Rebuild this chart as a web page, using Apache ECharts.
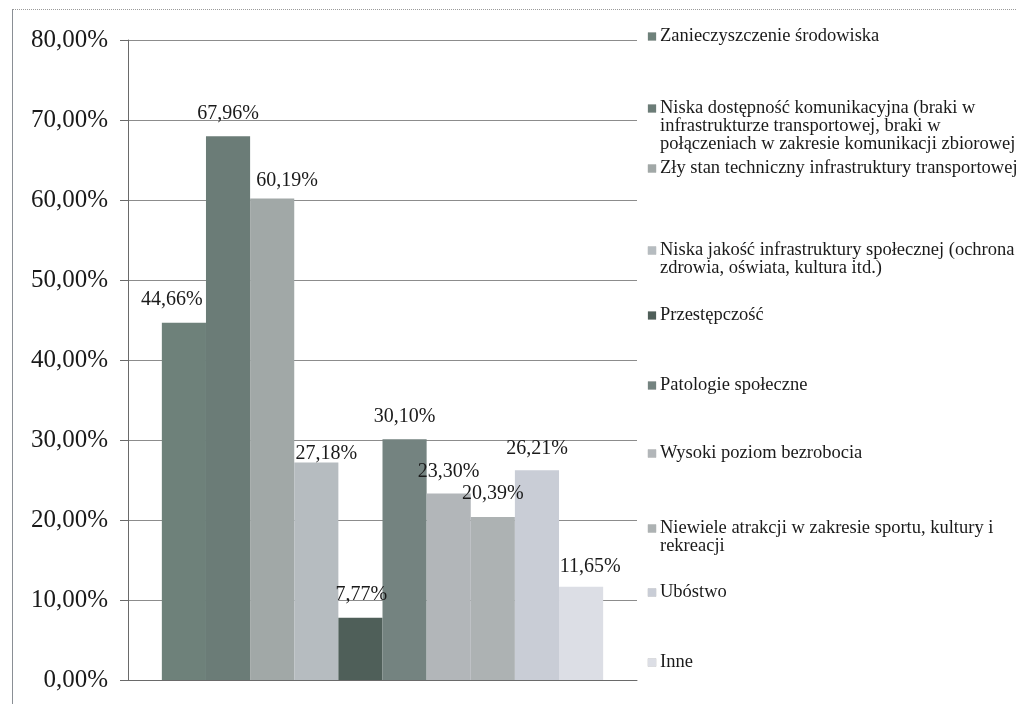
<!DOCTYPE html>
<html>
<head>
<meta charset="utf-8">
<script src="https://cdn.jsdelivr.net/npm/echarts@6/dist/echarts.min.js"></script>
<style>
html,body{margin:0;padding:0;background:#fff;}
#frame{position:absolute;left:12px;top:9px;width:1004px;height:695px;border-left:1px solid #8a8f95;border-top:1px dotted #9a9a9a;box-sizing:border-box;}
#chart{position:absolute;left:0;top:0;width:1016px;height:704px;}
</style>
</head>
<body>
<div id="frame"></div>
<div id="chart"></div>
<script>
const categories = [''];
const seriesNames = [
  'Zanieczyszczenie środowiska',
  'Niska dostępność komunikacyjna (braki w infrastrukturze transportowej, braki w połączeniach w zakresie komunikacji zbiorowej',
  'Zły stan techniczny infrastruktury transportowej',
  'Niska jakość infrastruktury społecznej (ochrona zdrowia, oświata, kultura itd.)',
  'Przestępczość',
  'Patologie społeczne',
  'Wysoki poziom bezrobocia',
  'Niewiele atrakcji w zakresie sportu, kultury i rekreacji',
  'Ubóstwo',
  'Inne'
];
const legendLines = [
  ['Zanieczyszczenie środowiska'],
  ['Niska dostępność komunikacyjna (braki w', 'infrastrukturze transportowej, braki w', 'połączeniach w zakresie komunikacji zbiorowej'],
  ['Zły stan techniczny infrastruktury transportowej'],
  ['Niska jakość infrastruktury społecznej (ochrona', 'zdrowia, oświata, kultura itd.)'],
  ['Przestępczość'],
  ['Patologie społeczne'],
  ['Wysoki poziom bezrobocia'],
  ['Niewiele atrakcji w zakresie sportu, kultury i', 'rekreacji'],
  ['Ubóstwo'],
  ['Inne']
];
const values = [44.66, 67.96, 60.19, 27.18, 7.77, 30.10, 23.30, 20.39, 26.21, 11.65];
const yTicks = [0, 10, 20, 30, 40, 50, 60, 70, 80];

// styling
const colors = ['#6e817a','#6b7c77','#a1a8a7','#b6bcc0','#4f5f59','#748380','#b2b6b9','#adb2b3','#c9cdd6','#dcdee5'];
const labelOffsets = [[-12,-8],[0,-8],[15,-3],[10,6],[1,-8],[0,-7],[0,-7],[0,-8],[0,-7],[9,-5]];
const legendTops = [22, 94, 154, 236, 301, 371, 439, 514, 578, 648];
const serif = '"Liberation Serif", "DejaVu Serif", serif';

const fmt = v => v.toFixed(2).replace('.', ',') + '%';

const series = seriesNames.map((name, i) => ({
  name: name,
  type: 'bar',
  data: [values[i]],
  barGap: '0%',
  barCategoryGap: '13.3%',
  itemStyle: { color: colors[i] },
  label: {
    show: true,
    position: 'top',
    distance: 5,
    offset: labelOffsets[i],
    formatter: p => fmt(p.value),
    fontFamily: serif,
    fontSize: 20,
    color: '#1a1a1a'
  }
}));

const legends = seriesNames.map((name, i) => ({
  data: [name],
  orient: 'vertical',
  left: 638,
  top: legendTops[i],
  itemWidth: 0,
  itemHeight: 0,
  icon: 'rect',
  selectedMode: false,
  formatter: () => legendLines[i].map((ln, k) => (k === 0 ? '{b|}{g|}' : '{ind|}') + '{t|' + ln + '}').join('\n'),
  textStyle: {
    fontFamily: serif, fontSize: 18.5, lineHeight: 18, color: '#1a1a1a',
    rich: {
      b: { width: 8, height: 8, backgroundColor: colors[i], borderColor: 'rgba(0,0,0,0.15)', borderWidth: 0.5 },
      g: { width: 4 },
      ind: { width: 12 },
      t: { fontFamily: serif, fontSize: 18.5, lineHeight: 18, color: '#1a1a1a' }
    }
  }
}));

const chart = echarts.init(document.getElementById('chart'), null, { renderer: 'canvas' });
chart.setOption({
  backgroundColor: 'transparent',
  animation: false,
  grid: { left: 128, right: 379, top: 40, bottom: 24, containLabel: false },
  legend: legends,
  xAxis: {
    type: 'category',
    data: categories,
    axisLine: { show: true, lineStyle: { color: '#6a6a6a', width: 1 } },
    axisTick: { show: false },
    axisLabel: { show: false }
  },
  yAxis: {
    type: 'value',
    min: yTicks[0],
    max: yTicks[yTicks.length - 1],
    interval: 10,
    axisLine: { show: true, lineStyle: { color: '#6a6a6a', width: 1 } },
    axisTick: { show: true, inside: false, length: 8, lineStyle: { color: '#6a6a6a' } },
    axisLabel: {
      margin: 20,
      formatter: v => fmt(v),
      fontFamily: serif,
      fontSize: 25,
      color: '#1a1a1a'
    },
    splitLine: { show: true, lineStyle: { color: '#8c8c8c', width: 1 } }
  },
  series: series
});
</script>
</body>
</html>
